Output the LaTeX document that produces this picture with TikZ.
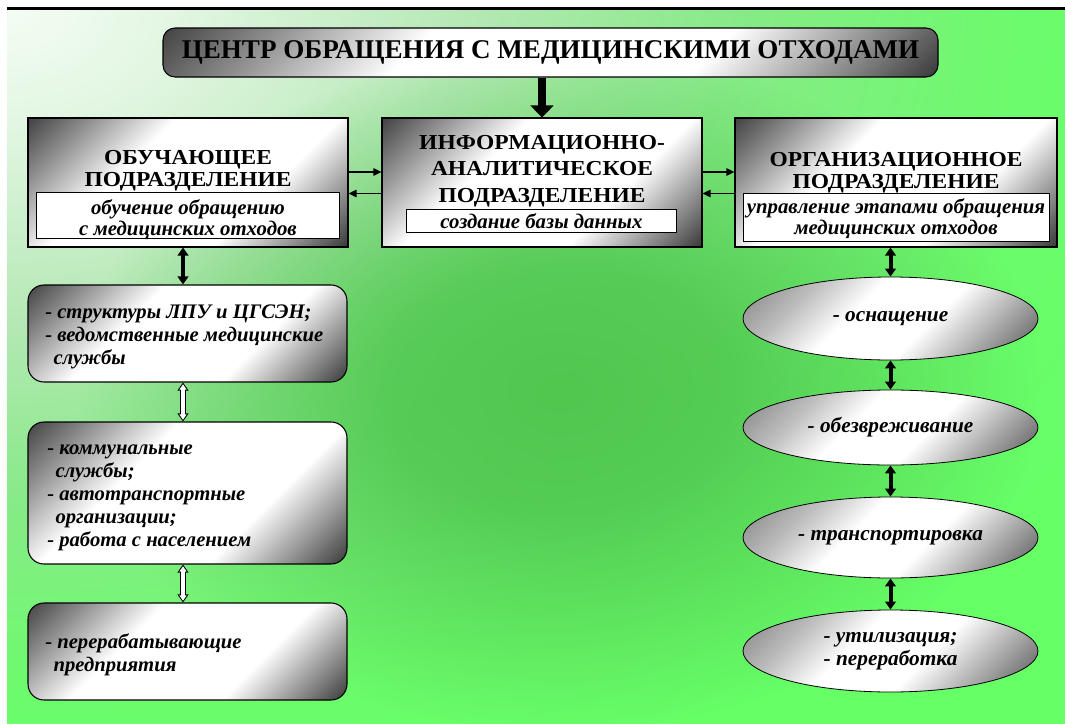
\documentclass[tikz,border=0pt]{standalone}
\usepackage{fontspec}
\setmainfont{Liberation Serif}
\newfontfamily\headfont[FakeStretch=1.1]{Liberation Serif}
\usepackage{xcolor}
\usepackage{tikz}
\usetikzlibrary{arrows.meta, positioning, calc, shapes.geometric, fadings}
\definecolor{bgwhite}{HTML}{F4FDF4}
\definecolor{bgpale}{HTML}{E2F6E2}
\definecolor{bglight}{HTML}{B4E8B4}
\definecolor{bgmid}{HTML}{88EA88}
\definecolor{bggreen}{HTML}{6CFB6C}
\definecolor{bgbright}{HTML}{66FF66}
\definecolor{bgdark}{HTML}{50C850}
\pgfdeclareradialshading{bgglow}{\pgfpointorigin}{color(0bp)=(bgwhite); color(4bp)=(bgpale); color(11bp)=(bglight); color(17bp)=(bgmid); color(24bp)=(bggreen); color(30bp)=(bgbright); color(50bp)=(bgbright)}
\pgfdeclareradialshading{blobmask}{\pgfpointorigin}{color(0bp)=(white); color(9bp)=(black!12); color(25bp)=(black); color(50bp)=(black)}
\pgfdeclarefading{blobfade}{\pgfuseshading{blobmask}}
\pgfdeclareverticalshading{boxshade}{100bp}{color(0bp)=(black); color(10bp)=(black!95); color(22bp)=(black!50); color(36bp)=(white); color(62bp)=(white); color(76bp)=(black!45); color(90bp)=(black!88); color(100bp)=(black!90)}
\pgfdeclareverticalshading{ovalshade}{100bp}{color(0bp)=(black!75); color(15bp)=(black!68); color(30bp)=(black!30); color(42bp)=(white); color(58bp)=(white); color(70bp)=(black!25); color(85bp)=(black!50); color(100bp)=(black!60)}
\newcommand{\px}{0.75pt}

\begin{document}
\begin{tikzpicture}[x=0.75pt, y=-0.75pt,
  titlebox/.style={draw=black, line width=0.8pt, rounded corners=9pt, shading=boxshade, shading angle=45, font=\bfseries\fontsize{20.3}{24}\selectfont},
  unitbox/.style={draw=black, line width=0.8pt, shading=boxshade, shading angle=45, inner sep=0pt},
  headtext/.style={align=center, inner sep=0pt, font=\headfont\bfseries\fontsize{16}{16.5}\selectfont},
  notebox/.style={draw=black, line width=0.6pt, fill=white, inner sep=0pt},
  notetext/.style={align=center, inner sep=0pt, font=\bfseries\itshape\fontsize{15.6}{15.8}\selectfont},
  listbox/.style={draw=black, line width=0.8pt, rounded corners=12pt, shading=boxshade, shading angle=45, minimum width=319*\px, inner sep=0pt},
  listtext/.style={anchor=west, align=left, inner sep=0pt, font=\bfseries\itshape\fontsize{15.5}{17.2}\selectfont},
  stageoval/.style={ellipse, draw=black, line width=0.6pt, shading=ovalshade, shading angle=45, minimum width=295*\px, inner sep=0pt, align=center, font=\bfseries\itshape\fontsize{16}{17}\selectfont},
  bigarrow/.style={line width=6pt, -{Triangle[width=17pt, length=9pt]}},
  linkarrow/.style={line width=1.1pt, -{Triangle[width=5.5pt, length=6pt]}},
  thickarrow/.style={line width=3pt, {Triangle[width=8pt, length=6pt]}-{Triangle[width=8pt, length=6pt]}},
  hollowarrow/.style={line width=4.5pt, {Triangle[width=8pt, length=6pt]}-{Triangle[width=8pt, length=6pt]}, postaction={draw=white, line width=3pt, shorten <=1.35pt, shorten >=1.35pt, arrows={Triangle[width=5.2pt, length=3.9pt]-Triangle[width=5.2pt, length=3.9pt]}}}
]
  % --- background ---------------------------------------------------
  \useasboundingbox (0,0) rectangle (1065,725);
  \fill[white] (0,0) rectangle (1065,725);
  \begin{scope}
    \clip (7,10) rectangle (1065,723);
    \shade[shading=bgglow] (-1051,-703) rectangle (1065,723);
    \fill[bgdark, path fading=blobfade] (560,390) ellipse (480 and 340);
  \end{scope}
  \draw[line width=2pt] (7,8.5) -- (1065,8.5);
  % --- centre -------------------------------------------------------
  \node[titlebox, minimum width=775*\px, minimum height=49*\px] (centre) at (550.5,52.5) {ЦЕНТР ОБРАЩЕНИЯ С МЕДИЦИНСКИМИ ОТХОДАМИ};
  % --- three units --------------------------------------------------
  \node[unitbox, minimum width=320*\px, minimum height=129*\px] (educ) at (188,182.5) {};
  \node[unitbox, minimum width=320*\px, minimum height=129*\px] (info) at (542,182.5) {};
  \node[unitbox, minimum width=322*\px, minimum height=129*\px] (org) at (896,182.5) {};
  \node[headtext] (educhead) at (188,171) {ОБУЧАЮЩЕЕ\\ПОДРАЗДЕЛЕНИЕ};
  \node[headtext, font=\headfont\bfseries\fontsize{16}{20}\selectfont] (infohead) at (542,171) {ИНФОРМАЦИОННО-\\АНАЛИТИЧЕСКОЕ\\ПОДРАЗДЕЛЕНИЕ};
  \node[headtext] (orghead) at (896,173) {ОРГАНИЗАЦИОННОЕ\\ПОДРАЗДЕЛЕНИЕ};
  % tasks of the units
  \node[notebox, minimum width=303*\px, minimum height=46*\px] (educnote) at (188,215.5) {};
  \node[notebox, minimum width=270*\px, minimum height=23*\px] (infonote) at (541.5,220.5) {};
  \node[notebox, minimum width=306*\px, minimum height=48*\px] (orgnote) at (896,217) {};
  \node[notetext] (eductask) at (188,219.5) {обучение обращению\\с медицинских отходов};
  \node[notetext] (infotask) at (541.5,221.5) {создание базы данных};
  \node[notetext] (orgtask) at (896,219) {управление этапами обращения\\медицинских отходов};
  % --- partners of the training unit --------------------------------
  \node[listbox, minimum height=97*\px] (ward) at (187.5,333.5) {};
  \node[listbox, minimum height=142*\px] (comm) at (187.5,493) {};
  \node[listbox, minimum height=97*\px] (recyc) at (187.5,651.5) {};
  \node[listtext] (wardtext) at (45,337) {- структуры ЛПУ и ЦГСЭН;\\- ведомственные медицинские\\\hspace*{.4em}службы};
  \node[listtext] (commtext) at (47,498) {- коммунальные\\\hspace*{.4em}службы;\\- автотранспортные\\\hspace*{.4em}организации;\\- работа с населением};
  \node[listtext] (recyctext) at (45,655) {- перерабатывающие\\\hspace*{.4em}предприятия};
  % --- stages -------------------------------------------------------
  \node[stageoval, minimum height=83*\px] (equip) at (890.5,318.5) {- оснащение};
  \node[stageoval, minimum height=75*\px] (neutral) at (890.5,427.5) {- обезвреживание};
  \node[stageoval, minimum height=81*\px] (haul) at (890.5,537.5) {- транспортировка};
  \node[stageoval, minimum height=82*\px] (final) at (890.5,651) {- утилизация;\\- переработка};
  % --- connectors ---------------------------------------------------
  \draw[bigarrow] (info.north |- centre.south) -- (info.north);
  \draw[linkarrow] ($(educ.east)+(0,-10.5)$) -- ($(info.west)+(0,-10.5)$);
  \draw[linkarrow] ($(info.west)+(0,11)$) -- ($(educ.east)+(0,11)$);
  \draw[linkarrow] ($(info.east)+(0,-10.5)$) -- ($(org.west)+(0,-10.5)$);
  \draw[linkarrow] ($(org.west)+(0,11)$) -- ($(info.east)+(0,11)$);
  \draw[thickarrow] ($(ward.north |- educ.south)+(-4.5,0)$) -- ($(ward.north)+(-4.5,0)$);
  \draw[hollowarrow] ($(ward.south)+(-4.5,0)$) -- ($(comm.north)+(-4.5,0)$);
  \draw[hollowarrow] ($(comm.south)+(-4.5,0)$) -- ($(recyc.north)+(-4.5,0)$);
  \draw[thickarrow] (equip.north |- org.south) -- (equip.north);
  \draw[thickarrow] (equip.south) -- (neutral.north);
  \draw[thickarrow] (neutral.south) -- (haul.north);
  \draw[thickarrow] (haul.south) -- (final.north);
\end{tikzpicture}
\end{document}
